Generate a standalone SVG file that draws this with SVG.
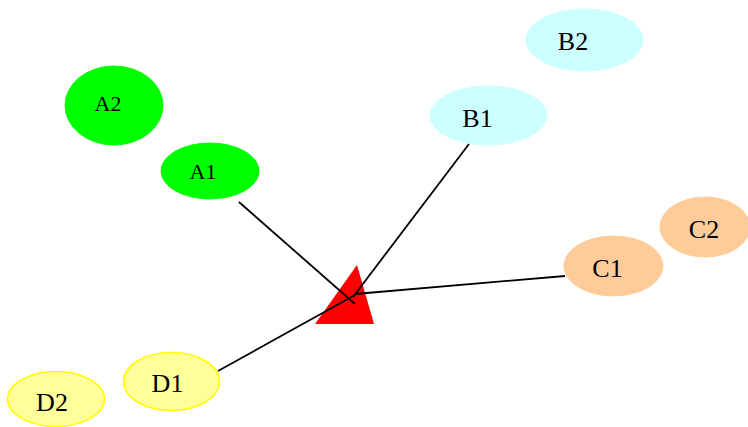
<svg xmlns="http://www.w3.org/2000/svg" width="748" height="427" viewBox="0 0 748 427">
<style>
text{font-family:"Liberation Serif","Times New Roman",serif;text-anchor:middle;fill:#000}
.a ellipse{fill:#00ff00;stroke:#00ff00}
.a text{font-size:22px}
.b ellipse{fill:#ccffff;stroke:#ccffff}
.c ellipse{fill:#ffcc99;stroke:#ffcc99}
.d ellipse{fill:#ffff99;stroke:#ffff00;stroke-width:1.5}
.b text,.c text,.d text{font-size:26px}
.e path{fill:none;stroke:#000;stroke-width:1.8}
</style>
<rect width="748" height="427" fill="#fff"/>
<g id="A2" class="a"><ellipse cx="114" cy="105.5" rx="49" ry="39.5"/><text x="108" y="111">A2</text></g>
<g id="A1" class="a"><ellipse cx="210" cy="171" rx="49" ry="28"/><text x="203" y="179">A1</text></g>
<g id="B2" class="b"><ellipse cx="584.5" cy="40" rx="58.5" ry="31"/><text x="573" y="50">B2</text></g>
<g id="B1" class="b"><ellipse cx="488.5" cy="115.5" rx="58.5" ry="29.5"/><text x="477.5" y="126.5">B1</text></g>
<g id="C2" class="c"><ellipse cx="705" cy="227" rx="45" ry="30"/><text x="704" y="238">C2</text></g>
<g id="C1" class="c"><ellipse cx="613.5" cy="266" rx="49.5" ry="30"/><text x="607.5" y="277">C1</text></g>
<g id="D1" class="d"><ellipse cx="171.5" cy="381.5" rx="48" ry="29"/><text x="167.5" y="392">D1</text></g>
<g id="D2" class="d"><ellipse cx="56" cy="399" rx="48.5" ry="27.5"/><text x="52" y="411">D2</text></g>
<g id="T"><polygon points="357,265 315,324 374,324" fill="#ff0000"/></g>
<g id="edges" class="e">
<path d="M239,202 L355,304"/>
<path d="M469,144 L353,297"/>
<path d="M565,276 L355,294"/>
<path d="M218,371 L355,295"/>
</g>
</svg>
